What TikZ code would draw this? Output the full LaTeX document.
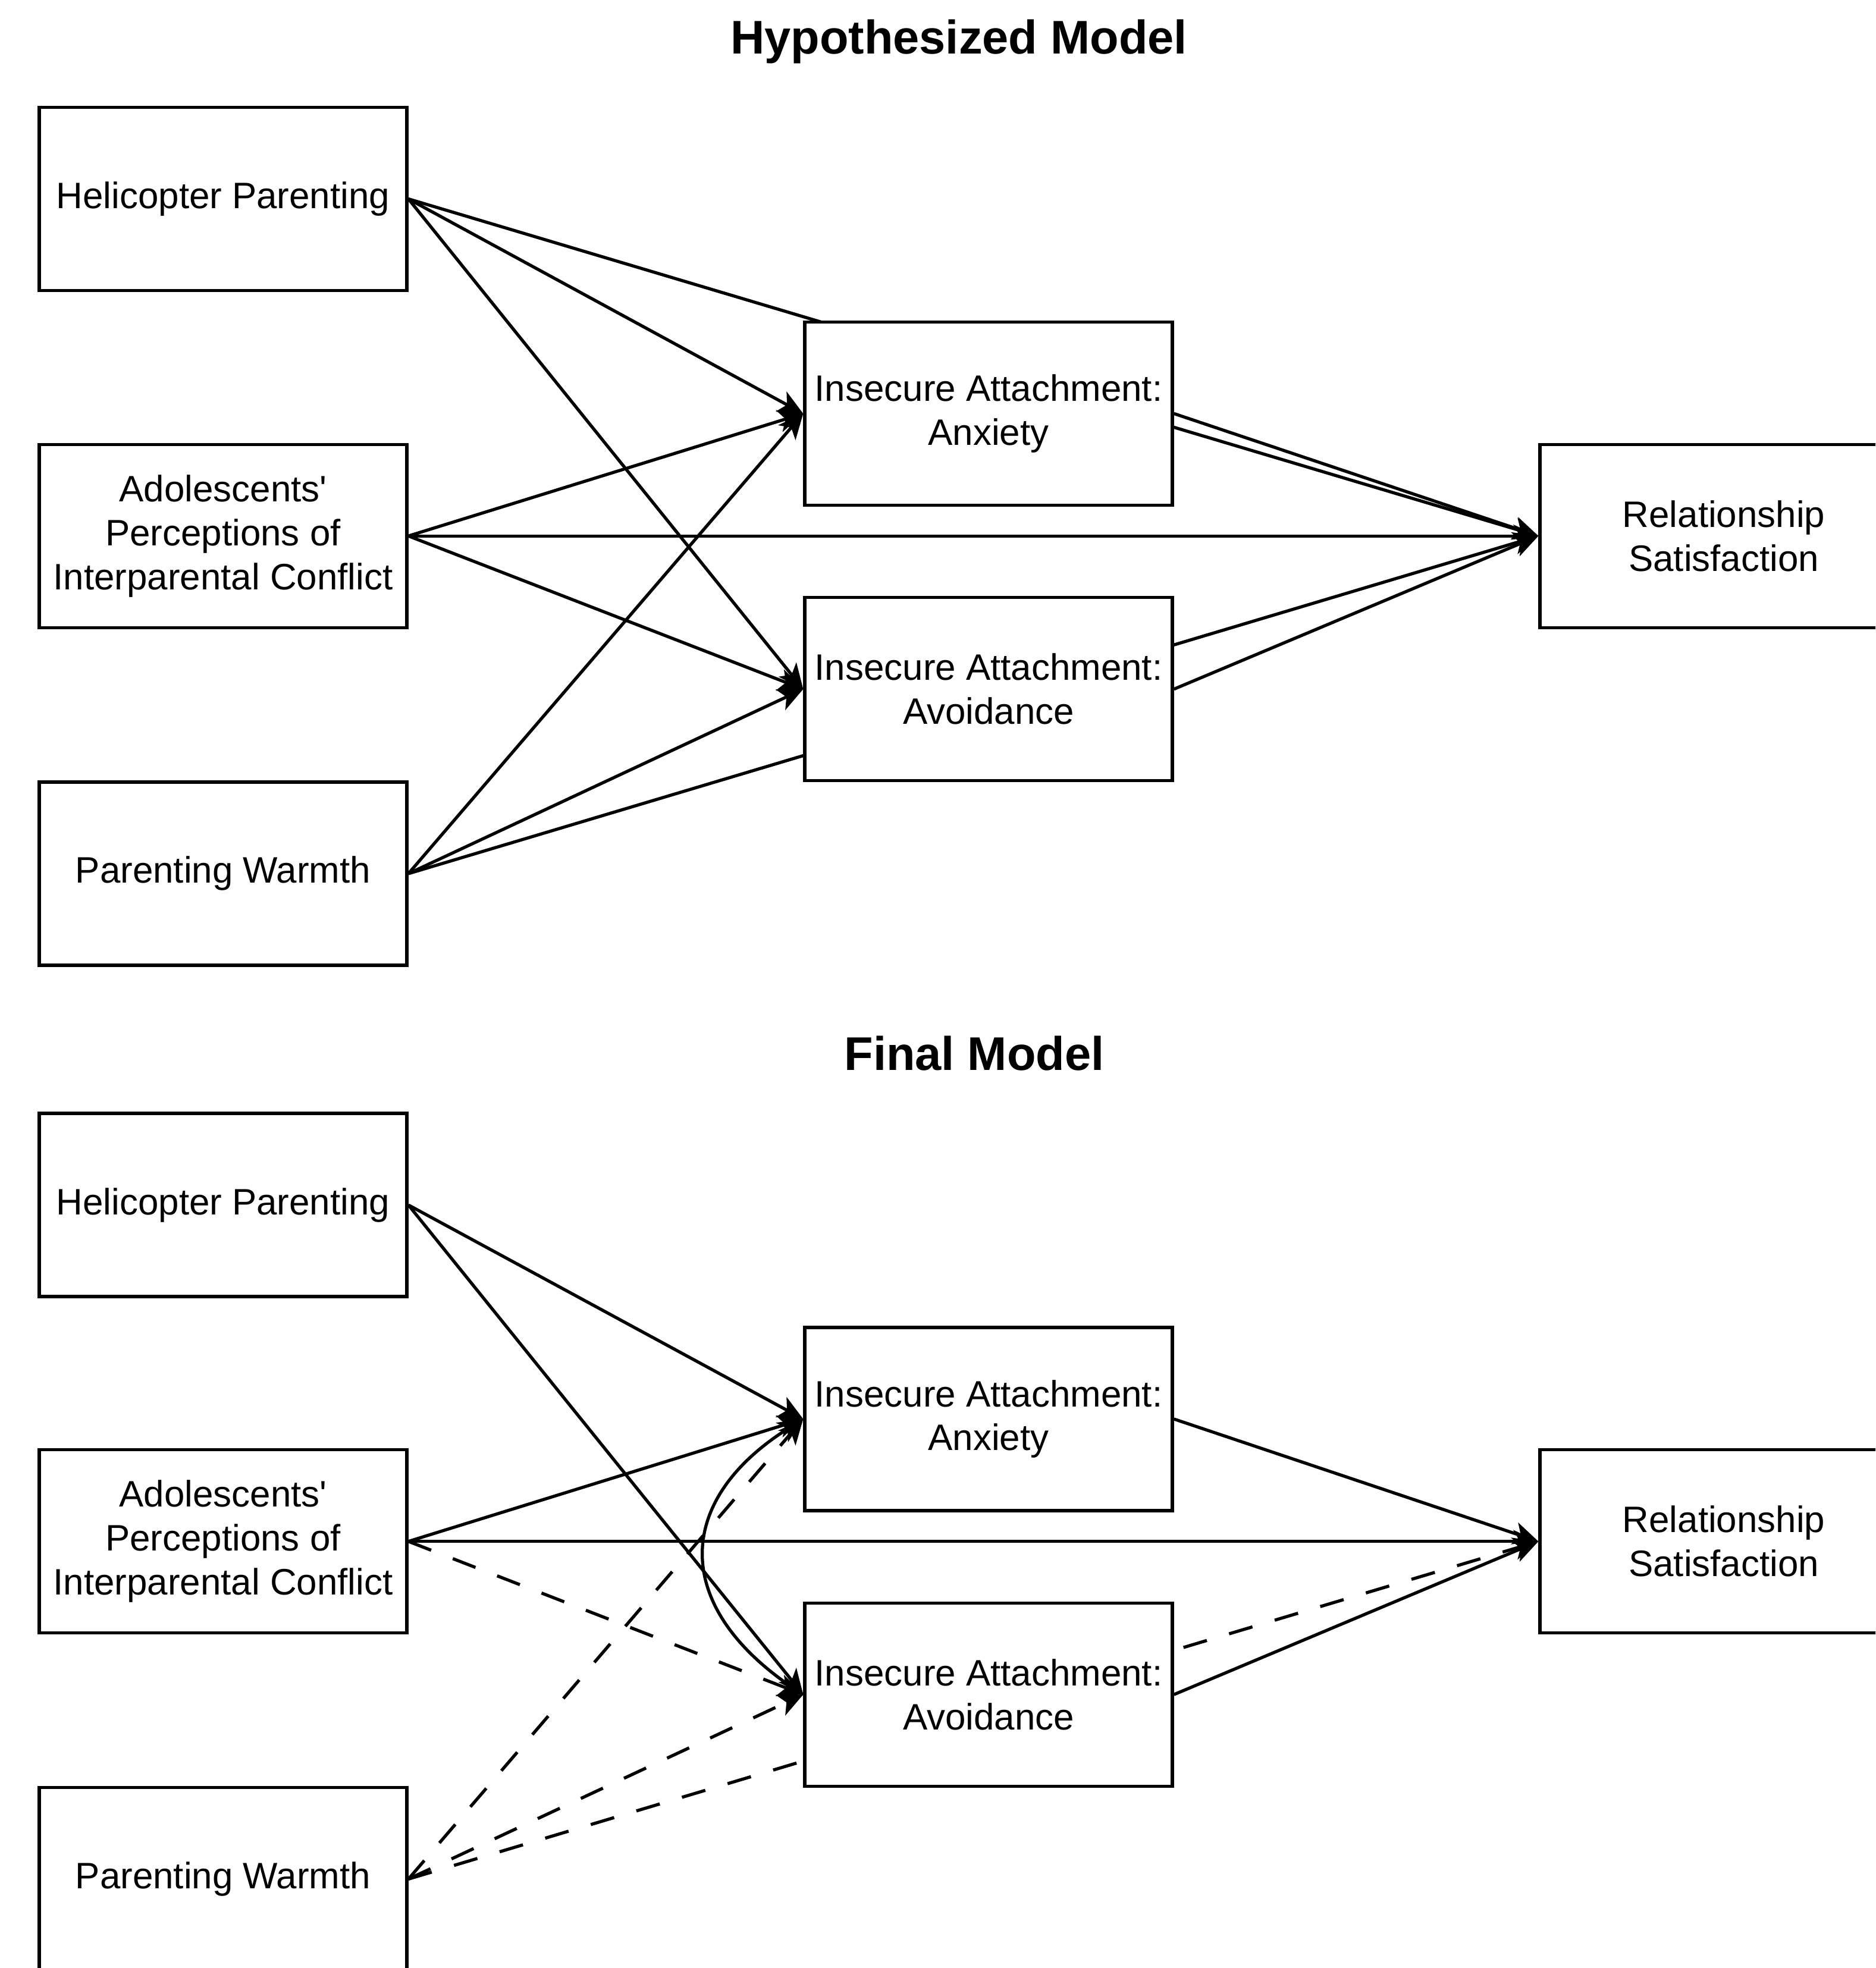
\documentclass[tikz,border=0pt]{standalone}
\usepackage{fontspec}
\setmainfont{Liberation Sans}
\usetikzlibrary{arrows.meta,backgrounds}

\begin{document}
\begin{tikzpicture}[line width=1.5pt,
  box/.style={draw,fill=white,minimum width=6.18cm,minimum height=3.08cm,inner sep=0pt,align=center,font=\fontsize{17.6}{21}\selectfont},
  heading/.style={anchor=base,font=\fontsize{22.6}{27}\selectfont\bfseries},
  arr/.style={line width=1.5pt,-{Stealth[length=4.2mm,width=3.8mm,inset=1.1mm]}},
  darr/.style={arr,dash pattern=on 4.1mm off 3.9mm}]
\useasboundingbox (0,0) rectangle (31.53,-33.09);
\clip (0,0) rectangle (31.53,-33.09);

% hypothesized model
\node (t1) at (16.12,-0.91) [heading] {Hypothesized Model};
\node (hp1) at (3.75,-3.345) [box] {Helicopter Parenting};
\node (ipc1) at (3.75,-9.012) [box] {Adolescents\textquotesingle\\Perceptions of\\Interparental Conflict};
\node (pw1) at (3.75,-14.689) [box] {Parenting Warmth};
\node (anx1) at (16.62,-6.954) [box] {Insecure Attachment:\\Anxiety};
\node (avo1) at (16.62,-11.587) [box] {Insecure Attachment:\\Avoidance};
\node (rs1) at (28.98,-9.012) [box] {Relationship\\Satisfaction};

\begin{scope}[on background layer]
\draw [arr] (hp1.east) -- (anx1.west);
\draw [arr] (hp1.east) -- (avo1.west);
\draw [arr] (hp1.east) -- (rs1.west);
\draw [arr] (ipc1.east) -- (anx1.west);
\draw [arr] (ipc1.east) -- (rs1.west);
\draw [arr] (ipc1.east) -- (avo1.west);
\draw [arr] (pw1.east) -- (anx1.west);
\draw [arr] (pw1.east) -- (avo1.west);
\draw [arr] (pw1.east) -- (rs1.west);
\draw [arr] (anx1.east) -- (rs1.west);
\draw [arr] (avo1.east) -- (rs1.west);
\end{scope}

% final model
\node (t2) at (16.38,-17.99) [heading] {Final Model};
\node (hp2) at (3.75,-20.261) [box] {Helicopter Parenting};
\node (ipc2) at (3.75,-25.917) [box] {Adolescents\textquotesingle\\Perceptions of\\Interparental Conflict};
\node (pw2) at (3.75,-31.594) [box] {Parenting Warmth};
\node (anx2) at (16.62,-23.859) [box] {Insecure Attachment:\\Anxiety};
\node (avo2) at (16.62,-28.492) [box] {Insecure Attachment:\\Avoidance};
\node (rs2) at (28.98,-25.917) [box] {Relationship\\Satisfaction};

\begin{scope}[on background layer]
\draw [arr] (hp2.east) -- (anx2.west);
\draw [arr] (hp2.east) -- (avo2.west);
\draw [arr] (ipc2.east) -- (anx2.west);
\draw [arr] (ipc2.east) -- (rs2.west);
\draw [darr] (ipc2.east) -- (avo2.west);
\draw [darr] (pw2.east) -- (anx2.west);
\draw [darr] (pw2.east) -- (avo2.west);
\draw [darr] (pw2.east) -- (rs2.west);
\draw [arr] (anx2.east) -- (rs2.west);
\draw [arr] (avo2.east) -- (rs2.west);
\draw [arr,{Stealth[length=4.2mm,width=3.8mm,inset=1.1mm]}-] (anx2.west) .. controls +(-2.22,-1.4) and +(-2.22,1.4) .. (avo2.west);
\end{scope}
\end{tikzpicture}
\end{document}
